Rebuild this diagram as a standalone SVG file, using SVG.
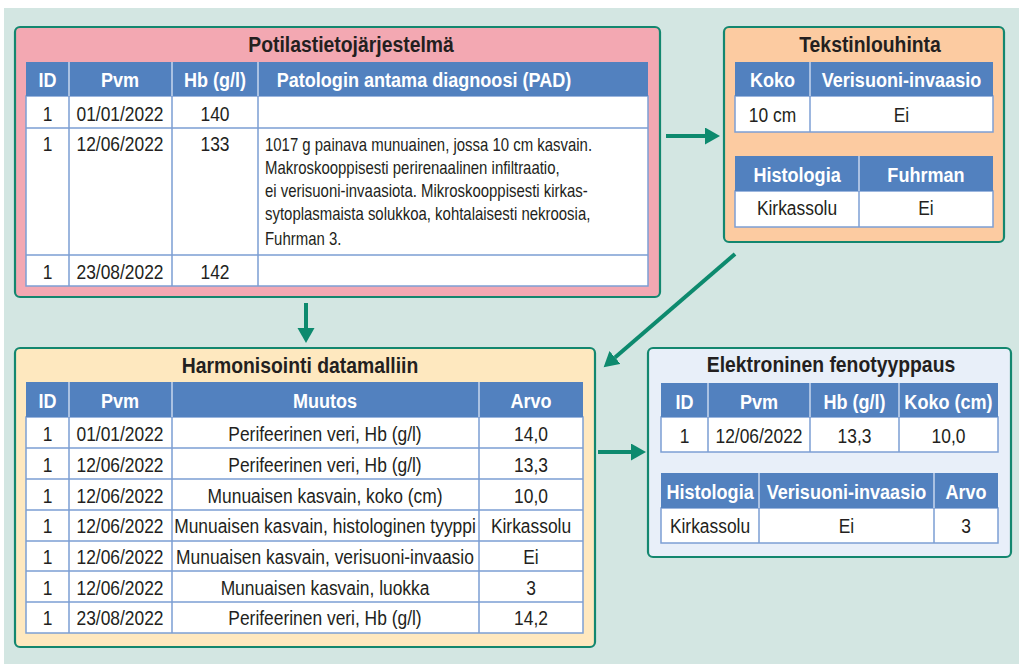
<svg xmlns="http://www.w3.org/2000/svg" width="1019" height="664" viewBox="0 0 1019 664">
<defs>
<style>
text{font-family:"Liberation Sans",Arial,sans-serif;fill:#231f20;font-size:20px;transform-box:fill-box;transform-origin:center;transform:scaleX(0.87)}
.t{font-weight:bold;font-size:22px;text-anchor:middle;transform:scaleX(0.88)}
.h{font-weight:bold;fill:#fff;font-size:21px;text-anchor:middle;transform:scaleX(0.86)}
.c{text-anchor:middle}
.l{font-size:18px;transform-origin:0% 50%;transform:scaleX(0.83)}
.panel{stroke:#13876f;stroke-width:2.2}
.hd{fill:#5281bf}
.bd{fill:#fff;stroke:#7c9fd4;stroke-width:1.5}
.gl{stroke:#7c9fd4;stroke-width:1.5;fill:none}
.hl{stroke:#c7d6ee;stroke-width:1.5}
.arr{stroke:#0d8a6e;stroke-width:4;fill:none}
</style>
<marker id="ah" markerUnits="userSpaceOnUse" markerWidth="16" markerHeight="18" refX="0" refY="8.5" orient="auto">
<path d="M0,0 L15,8.5 L0,17 z" fill="#0d8a6e"/>
</marker>
</defs>
<rect x="4" y="8" width="1015" height="656" fill="#d3e6e2"/>

<g id="potilastietojarjestelma">
<rect class="panel" x="15" y="27" width="645" height="270" rx="5" fill="#f3a8b2"/>
<text class="t" x="351" y="52">Potilastietojärjestelmä</text>
<rect class="bd" x="26" y="96" width="622" height="190"/>
<rect class="hd" x="26" y="62" width="622" height="34"/>
<path class="gl" d="M26,128H648M26,255H648M69,96V286M172,96V286M258,96V286"/>
<path class="hl" d="M69,62V96M172,62V96M258,62V96"/>
<text class="h" x="47.5" y="87">ID</text>
<text class="h" x="120" y="87">Pvm</text>
<text class="h" x="215" y="87">Hb (g/l)</text>
<text class="h" x="424" y="87">Patologin antama diagnoosi (PAD)</text>
<text class="c" x="47.5" y="121">1</text>
<text class="c" x="120" y="121">01/01/2022</text>
<text class="c" x="215" y="121">140</text>
<text class="c" x="47.5" y="151">1</text>
<text class="c" x="120" y="151">12/06/2022</text>
<text class="c" x="215" y="151">133</text>
<text class="l" x="265" y="151">1017 g painava munuainen, jossa 10 cm kasvain.</text>
<text class="l" x="265" y="174">Makroskooppisesti perirenaalinen infiltraatio,</text>
<text class="l" x="265" y="197">ei verisuoni-invaasiota.  Mikroskooppisesti kirkas-</text>
<text class="l" x="265" y="220">sytoplasmaista solukkoa, kohtalaisesti nekroosia,</text>
<text class="l" x="265" y="245">Fuhrman 3.</text>
<text class="c" x="47.5" y="279">1</text>
<text class="c" x="120" y="279">23/08/2022</text>
<text class="c" x="215" y="279">142</text>
</g>

<g id="tekstinlouhinta">
<rect class="panel" x="724" y="27" width="280" height="215" rx="5" fill="#fccba1"/>
<text class="t" x="870" y="52">Tekstinlouhinta</text>
<rect class="bd" x="735" y="96" width="258" height="36"/>
<rect class="hd" x="735" y="62" width="258" height="34"/>
<path class="gl" d="M810,96V132"/>
<path class="hl" d="M810,62V96"/>
<text class="h" x="772.5" y="87">Koko</text>
<text class="h" x="901.5" y="87">Verisuoni-invaasio</text>
<text class="c" x="772.5" y="122">10 cm</text>
<text class="c" x="901.5" y="122">Ei</text>
<rect class="bd" x="735" y="191" width="258" height="36"/>
<rect class="hd" x="735" y="156" width="258" height="35"/>
<path class="gl" d="M859,191V227"/>
<path class="hl" d="M859,156V191"/>
<text class="h" x="797" y="182">Histologia</text>
<text class="h" x="926" y="182">Fuhrman</text>
<text class="c" x="797" y="215">Kirkassolu</text>
<text class="c" x="926" y="215">Ei</text>
</g>

<g id="harmonisointi">
<rect class="panel" x="15" y="348" width="580" height="299" rx="5" fill="#fee8bf"/>
<text class="t" x="300" y="373">Harmonisointi datamalliin</text>
<rect class="bd" x="26" y="417" width="557" height="216"/>
<rect class="hd" x="26" y="382" width="557" height="35"/>
<path class="gl" d="M26,448H583M26,479H583M26,510H583M26,541H583M26,571H583M26,602H583M69,417V633M172,417V633M479,417V633"/>
<path class="hl" d="M69,382V417M172,382V417M479,382V417"/>
<text class="h" x="47.5" y="408">ID</text>
<text class="h" x="120" y="408">Pvm</text>
<text class="h" x="325" y="408">Muutos</text>
<text class="h" x="531" y="408">Arvo</text>
<text class="c" x="47.5" y="441">1</text><text class="c" x="120" y="441">01/01/2022</text><text class="c" x="325" y="441">Perifeerinen veri, Hb (g/l)</text><text class="c" x="531" y="441">14,0</text>
<text class="c" x="47.5" y="472">1</text><text class="c" x="120" y="472">12/06/2022</text><text class="c" x="325" y="472">Perifeerinen veri, Hb (g/l)</text><text class="c" x="531" y="472">13,3</text>
<text class="c" x="47.5" y="503">1</text><text class="c" x="120" y="503">12/06/2022</text><text class="c" x="325" y="503">Munuaisen kasvain, koko (cm)</text><text class="c" x="531" y="503">10,0</text>
<text class="c" x="47.5" y="533">1</text><text class="c" x="120" y="533">12/06/2022</text><text class="c" x="325" y="533">Munuaisen kasvain, histologinen tyyppi</text><text class="c" x="531" y="533">Kirkassolu</text>
<text class="c" x="47.5" y="564">1</text><text class="c" x="120" y="564">12/06/2022</text><text class="c" x="325" y="564">Munuaisen kasvain, verisuoni-invaasio</text><text class="c" x="531" y="564">Ei</text>
<text class="c" x="47.5" y="595">1</text><text class="c" x="120" y="595">12/06/2022</text><text class="c" x="325" y="595">Munuaisen kasvain, luokka</text><text class="c" x="531" y="595">3</text>
<text class="c" x="47.5" y="625">1</text><text class="c" x="120" y="625">23/08/2022</text><text class="c" x="325" y="625">Perifeerinen veri, Hb (g/l)</text><text class="c" x="531" y="625">14,2</text>
</g>

<g id="elektroninen-fenotyyppaus">
<rect class="panel" x="648" y="348" width="363" height="209" rx="5" fill="#e8eff9"/>
<text class="t" x="831" y="372">Elektroninen fenotyyppaus</text>
<rect class="bd" x="661" y="417" width="337" height="35"/>
<rect class="hd" x="661" y="383" width="337" height="34"/>
<path class="gl" d="M708,417V452M810,417V452M899,417V452"/>
<path class="hl" d="M708,383V417M810,383V417M899,383V417"/>
<text class="h" x="684.5" y="409">ID</text>
<text class="h" x="759" y="409">Pvm</text>
<text class="h" x="854.5" y="409">Hb (g/l)</text>
<text class="h" x="948.5" y="409">Koko (cm)</text>
<text class="c" x="684.5" y="443">1</text>
<text class="c" x="759" y="443">12/06/2022</text>
<text class="c" x="854.5" y="443">13,3</text>
<text class="c" x="948.5" y="443">10,0</text>
<rect class="bd" x="661" y="508" width="337" height="35"/>
<rect class="hd" x="661" y="473" width="337" height="35"/>
<path class="gl" d="M759,508V543M934,508V543"/>
<path class="hl" d="M759,473V508M934,473V508"/>
<text class="h" x="710" y="499">Histologia</text>
<text class="h" x="846.5" y="499">Verisuoni-invaasio</text>
<text class="h" x="966" y="499">Arvo</text>
<text class="c" x="710" y="533">Kirkassolu</text>
<text class="c" x="846.5" y="533">Ei</text>
<text class="c" x="966" y="533">3</text>
</g>

<g id="connectors">
<line class="arr" x1="666" y1="136" x2="705" y2="136" marker-end="url(#ah)"/>
<line class="arr" x1="306" y1="303" x2="306" y2="328" marker-end="url(#ah)"/>
<line class="arr" x1="735" y1="254" x2="615" y2="357.5" marker-end="url(#ah)"/>
<line class="arr" x1="598" y1="452" x2="631" y2="452" marker-end="url(#ah)"/>
</g>
</svg>
